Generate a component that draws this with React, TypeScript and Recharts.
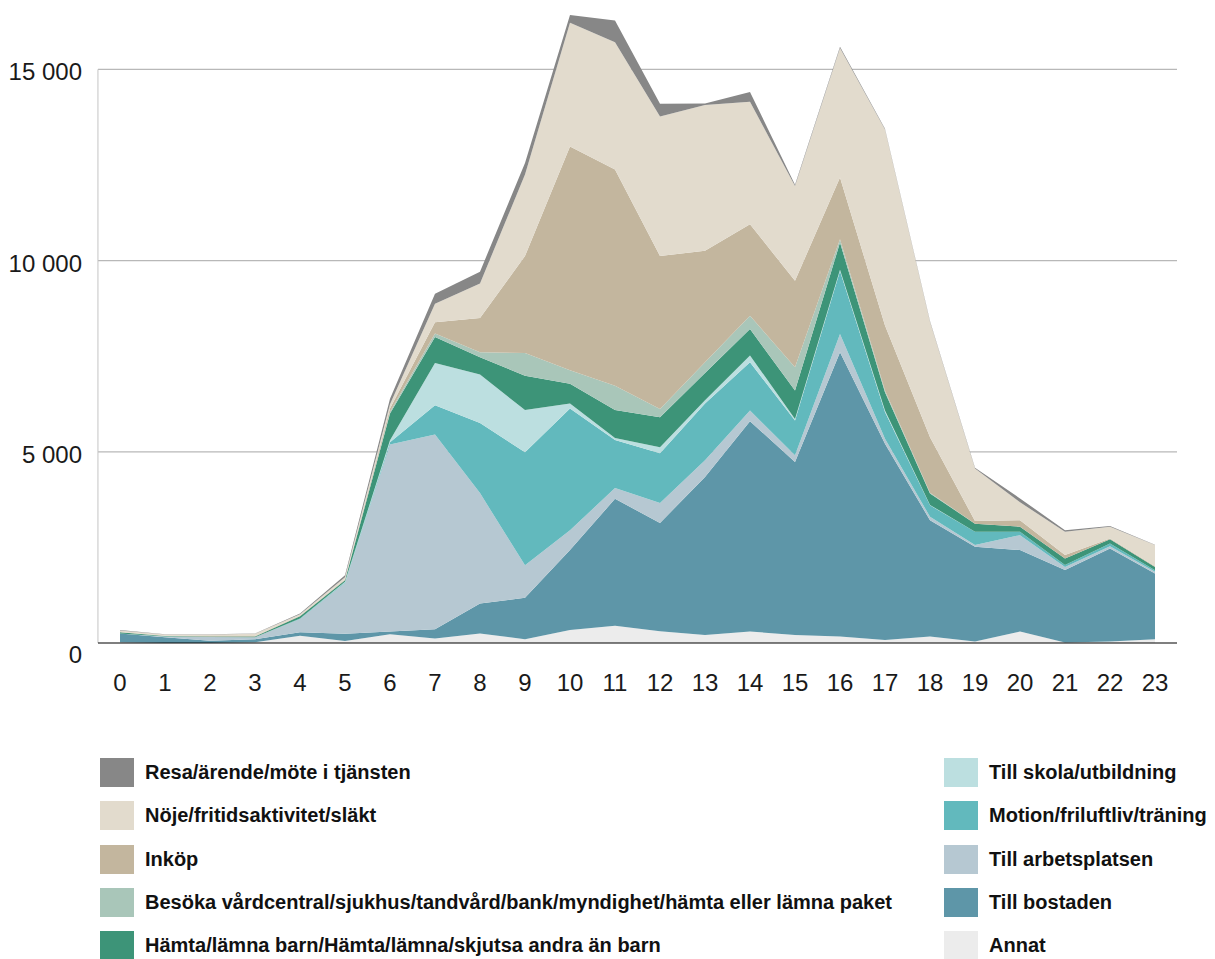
import React from "react";
import { AreaChart, Area, XAxis, YAxis, CartesianGrid, ReferenceLine } from "recharts";

if (typeof document !== "undefined") {
  document.body.style.margin = "0";
}

const hours = [0, 1, 2, 3, 4, 5, 6, 7, 8, 9, 10, 11, 12, 13, 14, 15, 16, 17, 18, 19, 20, 21, 22, 23];
const yTicks = [0, 5000, 10000, 15000];
const gridValues = [5000, 10000, 15000];

const annat = [20, 0, 0, 20, 190, 50, 230, 120, 250, 100, 340, 450, 310, 210, 300, 210, 170, 80, 170, 40, 300, 10, 40, 100];
const bostaden = [230, 150, 60, 80, 90, 190, 70, 240, 780, 1080, 2090, 3320, 2830, 4130, 5500, 4520, 7430, 5130, 3040, 2480, 2130, 1900, 2430, 1720];
const arbetsplatsen = [0, 20, 100, 50, 350, 1330, 4890, 5090, 2890, 850, 520, 280, 520, 440, 280, 180, 480, 130, 90, 40, 390, 80, 60, 40];
const motion = [0, 0, 0, 0, 10, 20, 60, 770, 1830, 2960, 3180, 1260, 1300, 1480, 1260, 910, 1650, 700, 300, 350, 90, 50, 70, 40];
const skola = [0, 0, 0, 0, 0, 10, 50, 1100, 1270, 1100, 130, 50, 160, 90, 180, 40, 30, 40, 10, 0, 0, 0, 0, 0];
const hamta = [30, 10, 10, 20, 60, 40, 700, 680, 450, 900, 520, 730, 780, 710, 690, 740, 710, 480, 300, 210, 130, 170, 110, 90];
const besoka = [0, 0, 0, 0, 0, 0, 50, 90, 130, 590, 350, 640, 220, 280, 350, 610, 90, 40, 20, 0, 0, 0, 0, 0];
const inkop = [10, 10, 10, 10, 10, 20, 80, 300, 900, 2540, 5850, 5650, 4000, 2920, 2390, 2260, 1610, 1700, 1450, 70, 170, 90, 20, 20];
const noje = [40, 30, 40, 60, 40, 60, 110, 480, 900, 2130, 3240, 3330, 3650, 3810, 3200, 2480, 3390, 5130, 3020, 1370, 470, 610, 310, 550];
const resa = [10, 10, 10, 10, 20, 50, 150, 260, 310, 300, 200, 570, 330, 40, 260, 30, 30, 20, 20, 20, 100, 40, 20, 10];

const series = [
  { key: "annat", name: "Annat", color: "#ececec", values: annat },
  { key: "bostaden", name: "Till bostaden", color: "#5e96a8", values: bostaden },
  { key: "arbetsplatsen", name: "Till arbetsplatsen", color: "#b6c8d2", values: arbetsplatsen },
  { key: "motion", name: "Motion/friluftliv/träning", color: "#62b9bd", values: motion },
  { key: "skola", name: "Till skola/utbildning", color: "#bcdfe0", values: skola },
  { key: "hamta", name: "Hämta/lämna barn/Hämta/lämna/skjutsa andra än barn", color: "#3d9478", values: hamta },
  { key: "besoka", name: "Besöka vårdcentral/sjukhus/tandvård/bank/myndighet/hämta eller lämna paket", color: "#a9c6b9", values: besoka },
  { key: "inkop", name: "Inköp", color: "#c3b69e", values: inkop },
  { key: "noje", name: "Nöje/fritidsaktivitet/släkt", color: "#e2dbcd", values: noje },
  { key: "resa", name: "Resa/ärende/möte i tjänsten", color: "#878787", values: resa },
];

const legendLeft = ["resa", "noje", "inkop", "besoka", "hamta"];
const legendRight = ["skola", "motion", "arbetsplatsen", "bostaden", "annat"];

const data = hours.map((h, i) => {
  const row: Record<string, number> = { hour: h };
  series.forEach((s) => {
    row[s.key] = s.values[i];
  });
  return row;
});

const FONT = "'Liberation Sans', Arial, sans-serif";

const fmt = (v: number) => (v >= 1000 ? `${Math.floor(v / 1000)} ${String(v % 1000).padStart(3, "0")}` : String(v));

const YTick = (props: any) => {
  const { x, y, payload } = props;
  const isZero = payload.value === 0;
  return (
    <text
      x={x - 16}
      y={y + (isZero ? 11 : 2.5)}
      textAnchor="end"
      dominantBaseline="central"
      fontFamily={FONT}
      fontSize={24}
      fill="#1a1a1a"
    >
      {fmt(payload.value)}
    </text>
  );
};

const XTick = (props: any) => {
  const { x, y, payload } = props;
  return (
    <text x={x} y={y + 39} textAnchor="middle" dominantBaseline="central" fontFamily={FONT} fontSize={24} fill="#1a1a1a">
      {payload.value}
    </text>
  );
};

const LegendItem = ({ k, left, top }: { k: string; left: number; top: number }) => {
  const s = series.find((x) => x.key === k)!;
  return (
    <div style={{ position: "absolute", left, top, height: 29, display: "flex", alignItems: "center" }}>
      <div style={{ width: 34, height: 29, background: s.color }} />
      <div
        style={{
          marginLeft: 11,
          fontFamily: FONT,
          fontWeight: 700,
          fontSize: 20,
          letterSpacing: 0,
          color: "#111",
          whiteSpace: "nowrap",
        }}
      >
        {s.name}
      </div>
    </div>
  );
};

export default function App() {
  return (
    <div style={{ position: "relative", width: 1215, height: 959, background: "#fff" }}>
      <AreaChart width={1215} height={720} data={data} margin={{ top: 12, right: 38, bottom: 37, left: 0 }}>
        <CartesianGrid
          vertical={false}
          horizontalValues={gridValues}
          stroke="#b8b8b8"
          strokeWidth={1.2}
        />
        <XAxis
          dataKey="hour"
          type="number"
          domain={[0, 23]}
          ticks={hours}
          interval={0}
          padding={{ left: 22, right: 22 }}
          height={40}
          tickSize={0}
          tickMargin={0}
          tickLine={false}
          axisLine={{ stroke: "#000", strokeWidth: 1.2 }}
          tick={<XTick />}
        />
        <YAxis
          domain={[0, 16500]}
          ticks={yTicks}
          width={98}
          tickSize={0}
          tickMargin={0}
          tickLine={false}
          axisLine={false}
          tick={<YTick />}
        />
        <ReferenceLine
          segment={[
            { x: -0.49, y: 0 },
            { x: -0.49, y: 15000 },
          ]}
          ifOverflow="visible"
          stroke="#c4c4c4"
          strokeWidth={1}
        />
        {series.map((s) => (
          <Area
            key={s.key}
            type="linear"
            dataKey={s.key}
            name={s.name}
            stackId="1"
            stroke="none"
            fill={s.color}
            fillOpacity={1}
            isAnimationActive={false}
            dot={false}
            activeDot={false}
          />
        ))}
      </AreaChart>
      {legendLeft.map((k, i) => (
        <LegendItem key={k} k={k} left={100} top={758 + i * 43.3} />
      ))}
      {legendRight.map((k, i) => (
        <LegendItem key={k} k={k} left={944} top={758 + i * 43.3} />
      ))}
    </div>
  );
}
